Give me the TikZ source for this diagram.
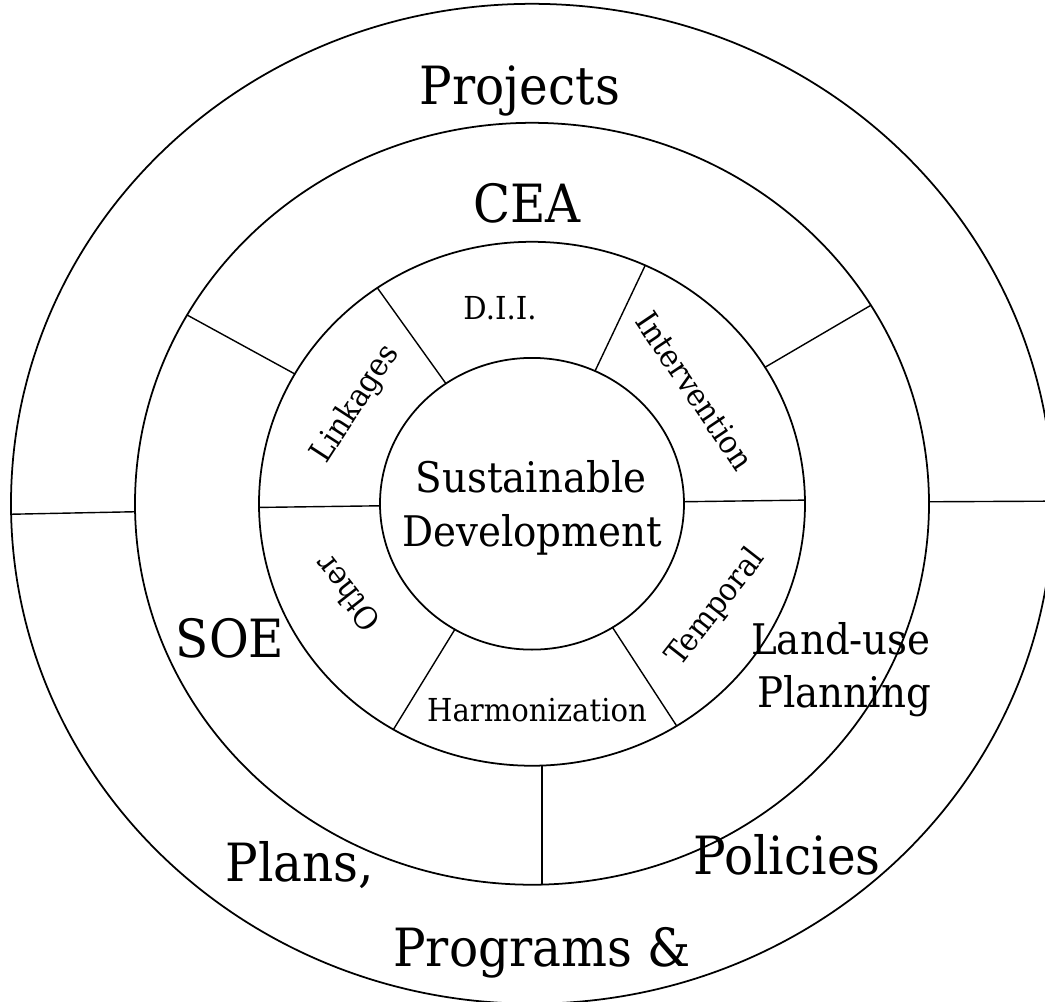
\documentclass[tikz,border=0pt]{standalone}
\usepackage{fontspec}
\setmainfont[FakeStretch=0.92]{DejaVu Serif}
\begin{document}
\begin{tikzpicture}[line join=round, line cap=round, x=0.02cm, y=0.0192cm,
	ring/.style={line width=1pt},
	spoke/.style={line width=0.8pt},
	big/.style={font=\fontsize{30}{34}\selectfont},
	mid/.style={font=\fontsize{24}{30}\selectfont},
	small/.style={font=\fontsize{18}{20}\selectfont}]
	\useasboundingbox (-532,-518.75) rectangle (513,525);
	\clip (-532,-518.75) rectangle (513,525);
	% four rings
	\foreach \r in {152,273,397,521}
	\draw[ring] (0,0) circle (\r);
	% spokes
	\foreach \a in {0.8,65.5,124.5,180.8,239.5,302}
	\draw[spoke] (\a:152) -- (\a:273);
	\foreach \a in {31.4,150.3}
	\draw[spoke] (\a:273) -- (\a:397);
	\draw[spoke] (10,-273) -- (10,-397);
	\foreach \a in {0.3,181.2}
	\draw[spoke] (\a:397) -- (\a:521);
	% centre
	\draw (-1,11.5) node[mid,anchor=base] (sust) {Sustainable}
	(0,-44.8) node[mid,anchor=base] (dev) {Development};
	% inner ring
	\draw (-32,191.7) node[small,anchor=base] (dii) {D.I.I.}
	(-176,104) node[small,rotate=57] (link) {Linkages}
	(163,117.7) node[small,rotate=-56] (interv) {Intervention}
	(184,-108.3) node[small,rotate=52] (temp) {Temporal}
	(5,-227) node[small,anchor=base] (harm) {Harmonization}
	(-185,-93.8) node[small,rotate=128] (other) {Other};
	% CEA ring
	\draw (-5,292.7) node[big,anchor=base] (cea) {CEA}
	(-302,-160.4) node[big,anchor=base] (soe) {SOE}
	(309,-157.3) node[mid,anchor=base] (land) {Land-use}
	(312,-212.5) node[mid,anchor=base] (plan) {Planning};
	% outer ring
	\draw (-12,415.6) node[big,anchor=base] (proj) {Projects}
	(-232,-393.75) node[big,anchor=base] (plans) {Plans,}
	(255,-386.5) node[big,anchor=base] (pol) {Policies}
	(10,-482.3) node[big,anchor=base] (prog) {Programs \&};
\end{tikzpicture}
\end{document}
